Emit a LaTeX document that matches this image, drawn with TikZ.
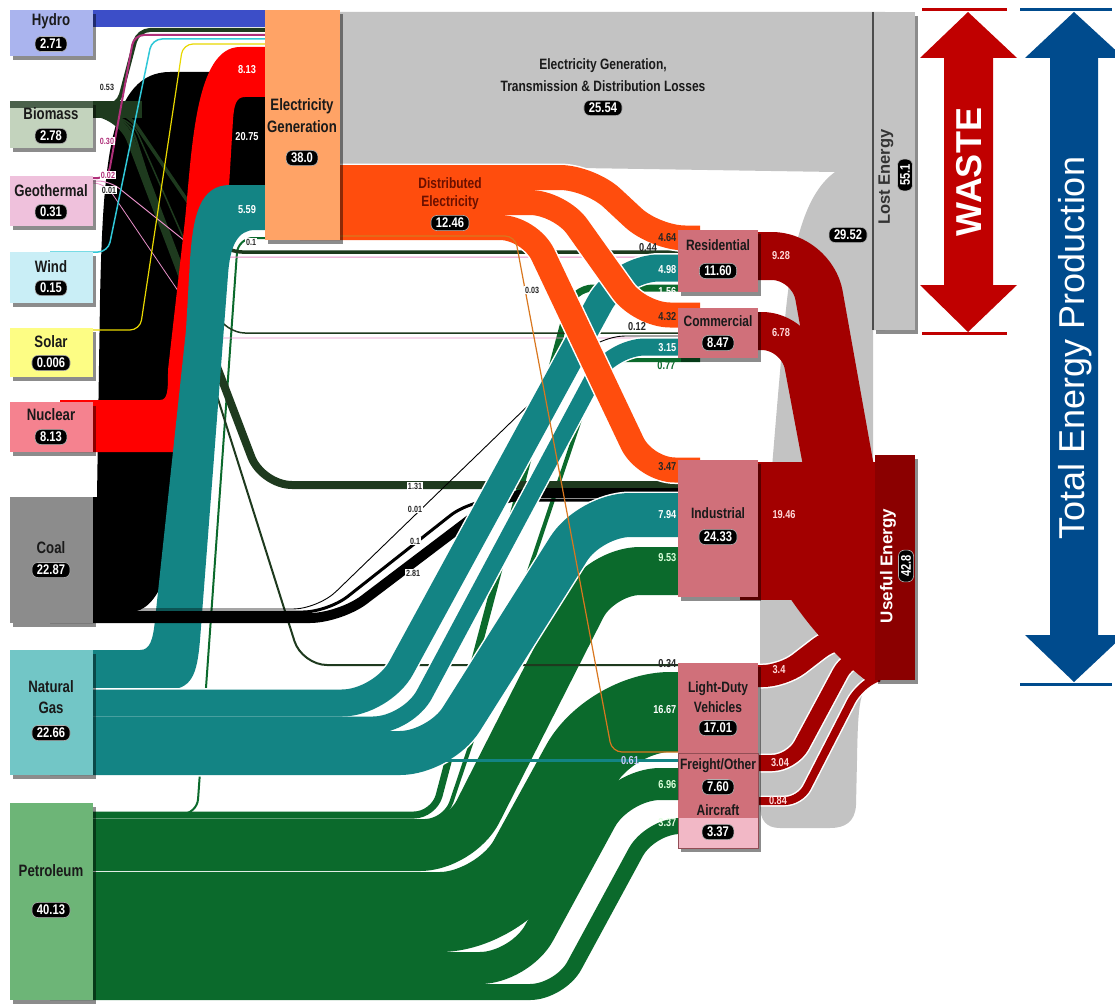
\documentclass[tikz,border=0pt]{standalone}
\usepackage{fontspec}
\setmainfont{Liberation Sans}
\newfontfamily\cnd[FakeStretch=0.8]{Liberation Sans}
\usetikzlibrary{shadows}
\definecolor{hydroC}{HTML}{3C4EC8}
\definecolor{bioC}{HTML}{1E3A1E}
\definecolor{geoC}{HTML}{B0307A}
\definecolor{geoL}{HTML}{E890C8}
\definecolor{windC}{HTML}{30C8D8}
\definecolor{solarC}{HTML}{E8D800}
\definecolor{nucC}{HTML}{FF0000}
\definecolor{gasC}{HTML}{138484}
\definecolor{petC}{HTML}{0B6A2C}
\definecolor{elecC}{HTML}{FF4D0D}
\definecolor{thinO}{HTML}{D9771F}
\definecolor{lossC}{HTML}{C3C3C3}
\definecolor{useC}{HTML}{A30000}
\definecolor{useBox}{HTML}{8B0000}
\definecolor{secC}{HTML}{D0707A}
\definecolor{secL}{HTML}{F2B8C6}
\definecolor{egC}{HTML}{FFA366}
\definecolor{wasteC}{HTML}{C00000}
\definecolor{totC}{HTML}{004B8D}
\definecolor{hydroF}{HTML}{AAB4EE}
\definecolor{bioF}{HTML}{C3D3BD}
\definecolor{geoF}{HTML}{EFC1DC}
\definecolor{windF}{HTML}{C9EEF6}
\definecolor{solarF}{HTML}{FDFD84}
\definecolor{nucF}{HTML}{F5828F}
\definecolor{coalF}{HTML}{8C8C8C}
\definecolor{gasF}{HTML}{72C6C6}
\definecolor{petF}{HTML}{6DB577}
\definecolor{labC}{HTML}{1A1A1A}
\definecolor{distT}{HTML}{6B1000}
\newcommand\bandw[3]{\draw[white,line cap=butt,line join=round,line width=#2pt+3pt,rounded corners=#1pt] #3;}
\newcommand\bandc[4]{\draw[#1,line cap=butt,line join=round,line width=#3pt,rounded corners=#2pt] #4;}
\tikzset{
 box/.style={anchor=north west, inner sep=0pt, outer sep=0pt,
   drop shadow={shadow xshift=3pt, shadow yshift=-4pt, opacity=0.45, fill=black}},
 lab/.style={font=\cnd\bfseries\fontsize{15}{16}\selectfont, text=labC, inner sep=0pt},
 srclab/.style={font=\cnd\bfseries\fontsize{16.5}{17}\selectfont, text=labC, inner sep=0pt},
 badge/.style={fill=black, text=white, rounded corners=6pt, inner xsep=5pt, inner ysep=2.6pt,
   draw=gray!60, line width=0.6pt, font=\cnd\bfseries\fontsize{14}{14}\selectfont},
 valW/.style={font=\cnd\bfseries\fontsize{11.5}{12}\selectfont, text=white, inner sep=0.5pt},
 valD/.style={font=\cnd\bfseries\fontsize{11.5}{12}\selectfont, text=black!85, inner sep=0.5pt},
 small/.style={font=\cnd\bfseries\fontsize{9}{9}\selectfont, text=black!85, fill=white, inner sep=0.6pt},
}
\begin{document}
\begin{tikzpicture}[x=1pt,y=-1pt]
\useasboundingbox (0,0) rectangle (1115,1006);
\clip (0,0) rectangle (1115,1006);
\fill[white] (0,0) rectangle (1115,1006);

% ---------- losses (gray) ----------
\fill[lossC] (320,165) -- (320,12) -- (885,12) -- (885,330) -- (873,330) -- (873,680)
  .. controls (860,690) and (858,700) .. (857,760) -- (856,805)
  .. controls (855,822) and (845,828) .. (830,828) -- (780,828)
  .. controls (766,828) and (760,820) .. (760,805) -- (760,600)
  .. controls (768,530) and (778,380) .. (787,300)
  .. controls (795,230) and (810,190) .. (835,172) -- (580,168) -- cycle;

% ---------- petroleum ----------
\bandw{20}{7}{(50,815) -- (434,815) -- (573,288) -- (700,288)}
\bandw{20}{4}{(50,821) -- (445,821) -- (600,360) -- (700,360)}
\bandw{40}{48}{(50,847) -- (460,847) -- (600,571) -- (700,571)}
\bandw{60}{80}{(50,912) -- (500,912) -- (610,712) -- (700,712)}
\bandw{40}{32}{(50,968) -- (520,968) -- (620,784) -- (700,784)}
\bandw{30}{16}{(50,992) -- (560,992) -- (650,826) -- (700,826)}
\bandc{petC}{20}{7}{(50,815) -- (434,815) -- (573,288) -- (700,288)}
\bandc{petC}{20}{4}{(50,821) -- (445,821) -- (600,360) -- (700,360)}
\bandc{petC}{40}{48}{(50,847) -- (460,847) -- (600,571) -- (700,571)}
\bandc{petC}{60}{80}{(50,912) -- (500,912) -- (610,712) -- (700,712)}
\bandc{petC}{40}{32}{(50,968) -- (520,968) -- (620,784) -- (700,784)}
\bandc{petC}{30}{16}{(50,992) -- (560,992) -- (650,826) -- (700,826)}
\bandc{petC}{15}{2}{(150,814) -- (197,814) -- (238,238) -- (290,238)}

% ---------- coal to electricity ----------
\fill[black] (60,612) -- (60,497) -- (97,497) -- (100,300)
  .. controls (103,160) and (110,72) .. (170,72) -- (300,72) -- (300,190) -- (245,190)
  .. controls (215,190) and (205,260) .. (195,360) -- (180,500)
  .. controls (175,560) and (160,612) .. (130,612) -- cycle;

% ---------- biomass and geothermal lines (under nuclear and gas) ----------
\fill[bioC] (93,101) rectangle (142,118);
\bandc{bioC}{20}{3.5}{(50,109) -- (125,109) -- (222,252) -- (700,252)}
\bandc{bioC}{20}{1.5}{(50,116) -- (130,116) -- (225,333) -- (700,333)}
\bandc{bioC}{30}{8}{(50,112) -- (120,112) -- (262,485) -- (700,485)}
\bandc{bioC}{25}{2}{(50,114) -- (128,114) -- (302,665) -- (700,665)}
\bandc{geoL}{12}{1}{(50,181) -- (110,181) -- (205,257) -- (700,257)}
\bandc{geoL}{12}{0.8}{(50,183) -- (105,183) -- (210,338) -- (700,338)}

% ---------- nuclear ----------
\fill[nucC] (60,400) -- (160,400) .. controls (168,400) and (168,390) .. (168,370)
  -- (185,220) .. controls (192,150) and (195,47) .. (240,47) -- (300,47) -- (300,97)
  -- (245,97) .. controls (236,97) and (234,105) .. (233,120) -- (215,420)
  .. controls (213,445) and (208,452) .. (195,452) -- (60,452) -- cycle;

% ---------- hydro and small renewables to electricity ----------
\fill[hydroC] (60,10) rectangle (300,27);
\bandc{bioC}{12}{4}{(50,106) -- (118,106) -- (138,30) -- (300,30)}
\bandc{geoC}{10}{2}{(50,178) -- (108,178) -- (134,35) -- (300,35)}
\bandc{windC}{10}{1.5}{(50,252) -- (108,252) -- (152,39) -- (300,39)}
\bandc{solarC}{10}{1.2}{(50,330) -- (140,330) -- (183,44) -- (300,44)}

% ---------- gas to electricity ----------
\fill[gasC] (60,650) -- (140,650) .. controls (150,650) and (153,640) .. (155,620)
  -- (186,330) -- (190,260) .. controls (193,215) and (200,185) .. (230,185) -- (300,185)
  -- (300,230) -- (255,230) .. controls (238,230) and (230,245) .. (228,275)
  -- (200,640) .. controls (197,675) and (192,690) .. (165,690) -- (60,690) -- cycle;

% coal to sectors
\bandc{black}{30}{10}{(50,618) -- (340,618) -- (505,493) -- (700,493)}
\bandc{black}{25}{3}{(50,612) -- (328,612) -- (470,500) -- (700,500)}
\bandc{black}{25}{0.9}{(50,609) -- (318,609) -- (600,336) -- (700,336)}

% ---------- natural gas to sectors ----------
\bandw{40}{27}{(50,703) -- (382,703) -- (619,268) -- (700,268)}
\bandw{35}{17}{(50,725) -- (408,725) -- (610,347) -- (700,347)}
\bandw{40}{44}{(50,753) -- (440,753) -- (590,515) -- (700,515)}
\bandc{gasC}{40}{27}{(50,703) -- (382,703) -- (619,268) -- (700,268)}
\bandc{gasC}{35}{17}{(50,725) -- (408,725) -- (610,347) -- (700,347)}
\bandc{gasC}{40}{44}{(50,753) -- (440,753) -- (590,515) -- (700,515)}
\bandc{gasC}{5}{3}{(50,760) -- (700,760)}

% ---------- distributed electricity ----------
\bandw{30}{25}{(300,177.5) -- (590,177.5) -- (655,238) -- (700,238)}
\bandw{30}{25}{(300,202.5) -- (560,202.5) -- (640,315) -- (700,315)}
\bandw{30}{25}{(300,227.5) -- (530,227.5) -- (645,470) -- (700,470)}
\bandc{elecC}{30}{25}{(300,177.5) -- (590,177.5) -- (655,238) -- (700,238)}
\bandc{elecC}{30}{25}{(300,202.5) -- (560,202.5) -- (640,315) -- (700,315)}
\bandc{elecC}{30}{25}{(300,227.5) -- (530,227.5) -- (645,470) -- (700,470)}
\bandc{thinO}{10}{1.2}{(340,236) -- (515,236) -- (612,752) -- (700,752)}

% ---------- useful energy flows ----------
\bandw{20}{22}{(740,676) -- (783,676) -- (835,636) -- (880,636)}
\bandw{20}{16}{(740,763) -- (792,763) -- (850,655) -- (880,655)}
\bandw{15}{8}{(740,801) -- (800,801) -- (858,688) -- (880,676)}
\fill[useC] (740,462) rectangle (880,600);
\fill[useC] (790,598) -- (880,598) -- (880,682) -- (868,682) .. controls (845,665) and (815,635) .. (790,598) -- cycle;
\bandc{useC}{40}{48}{(740,256) -- (812,256) -- (852,480)}
\bandc{useC}{35}{38}{(740,331) -- (797,331) -- (825,480)}
\bandc{useC}{20}{22}{(740,676) -- (783,676) -- (835,636) -- (880,636)}
\bandc{useC}{20}{16}{(740,763) -- (792,763) -- (850,655) -- (880,655)}
\bandc{useC}{15}{8}{(740,801) -- (800,801) -- (858,688) -- (880,676)}

% ---------- source boxes ----------
\node[box, fill=hydroF, minimum width=83pt, minimum height=46pt] (hydro) at (10,10) {};
\node[box, fill=bioF, minimum width=83pt, minimum height=47pt] (biomass) at (10,101) {};
\fill[bioC!80] (10,101) rectangle (93,108);
\node[box, fill=geoF, minimum width=83pt, minimum height=50pt] (geo) at (10,176) {};
\node[box, fill=windF, minimum width=83pt, minimum height=51pt] (wind) at (10,252) {};
\node[box, fill=solarF, minimum width=83pt, minimum height=49pt] (solar) at (10,328) {};
\node[box, fill=nucF, minimum width=83pt, minimum height=50pt] (nuclear) at (10,402) {};
\node[box, fill=coalF, minimum width=83pt, minimum height=126pt] (coal) at (10,497) {};
\node[box, fill=gasF, minimum width=83pt, minimum height=125pt] (gas) at (10,650) {};
\node[box, fill=petF, minimum width=83pt, minimum height=197pt] (petro) at (10,803) {};

% ---------- electricity generation, sectors, totals ----------
\node[box, fill=egC, minimum width=75pt, minimum height=230pt] (eg) at (265,10) {};
\node[box, fill=secC, minimum width=80pt, minimum height=62pt] (res) at (678,230) {};
\node[box, fill=secC, minimum width=80pt, minimum height=50pt] (com) at (678,308) {};
\node[box, fill=secC, minimum width=80pt, minimum height=137pt] (ind) at (678,460) {};
\node[box, fill=secC, minimum width=80pt, minimum height=90pt] (ldv) at (678,663) {};
\node[box, fill=secC, minimum width=80pt, minimum height=47pt, draw=secC!70!black, line width=0.5pt] (frt) at (678,753) {};
\node[box, fill=secL, minimum width=80pt, minimum height=48pt, draw=secC!70!black, line width=0.5pt] (air) at (678,800) {};
\fill[secC] (678.3,800.3) rectangle (757.7,818);
\node[box, fill=lossC, minimum width=42pt, minimum height=318pt] (lost) at (873,12) {};
\draw[black!70, line width=2pt] (lost.north west) -- (lost.south west);
\node[box, fill=useBox, minimum width=40pt, minimum height=225pt] (useful) at (875,455) {};

% ---------- texts ----------
\node[srclab] at (51,21) {Hydro};        \node[badge] at (51,44) {2.71};
\node[srclab] at (51,114) {Biomass};     \node[badge] at (51,136) {2.78};
\node[srclab] at (51,191) {Geothermal};  \node[badge] at (51,212) {0.31};
\node[srclab] at (51,267) {Wind};        \node[badge] at (51,288) {0.15};
\node[srclab] at (51,342) {Solar};       \node[badge] at (51,363) {0.006};
\node[srclab] at (51,415) {Nuclear};     \node[badge] at (51,437) {8.13};
\node[srclab] at (51,548) {Coal};        \node[badge] at (51,570) {22.87};
\node[srclab] at (51,687) {Natural};     \node[srclab] at (51,708) {Gas};
\node[badge] at (51,733) {22.66};
\node[srclab] at (51,871) {Petroleum};   \node[badge] at (51,910) {40.13};

\node[srclab] at (302,106) {Electricity};
\node[srclab] at (302,127) {Generation};
\node[badge] at (302,158) {38.0};
\node[lab] at (603,66) {Electricity Generation,};
\node[lab] at (603,86) {Transmission \& Distribution Losses};
\node[badge] at (603,108) {25.54};
\node[lab, text=distT] at (450,183) {Distributed};
\node[lab, text=distT] at (450,203) {Electricity};
\node[badge] at (450,223) {12.46};

\node[lab] at (718,245) {Residential};   \node[badge] at (718,271) {11.60};
\node[lab] at (718,321) {Commercial};    \node[badge] at (718,343) {8.47};
\node[lab] at (718,513) {Industrial};    \node[badge] at (718,537) {24.33};
\node[lab] at (718,689) {Light-Duty};    \node[lab] at (718,707) {Vehicles};
\node[badge] at (718,728) {17.01};
\node[lab] at (718,766) {Freight/Other}; \node[badge] at (718,787) {7.60};
\node[lab] at (718,810) {Aircraft};      \node[badge] at (718,832) {3.37};

\node[rotate=90, font=\bfseries\fontsize{16.5}{16.5}\selectfont, text=black!80, inner sep=0pt] at (886,177) {Lost Energy};
\node[badge, rotate=90] at (905,175) {55.1};
\node[rotate=90, font=\bfseries\fontsize{17}{17}\selectfont, text=white, inner sep=0pt] at (888,566) {Useful Energy};
\node[badge, rotate=90] at (906,566) {42.8};
\node[badge] at (848,235) {29.52};

% values on flows
\node[valW] at (247,70) {8.13};
\node[valW] at (247,137) {20.75};
\node[valW] at (247,210) {5.59};
\node[small] at (251,242) {0.1};
\node[small] at (107,87) {0.53};
\node[small, text=geoC] at (107,141) {0.30};
\node[small, text=geoC] at (108,175) {0.02};
\node[small] at (109,190) {0.01};
\node[small] at (415,486) {1.31};
\node[small] at (415,509) {0.01};
\node[small] at (415,541) {0.1};
\node[small] at (413,573) {2.81};
\node[small] at (532,290) {0.03};

\node[valD, anchor=east] at (677,238) {4.64};
\node[valD] at (648,248) {0.44};
\node[valW, anchor=east] at (677,270) {4.98};
\node[valW, anchor=east] at (677,292) {1.56};
\node[valD, anchor=east] at (677,317) {4.32};
\node[valD] at (637,327) {0.12};
\node[valW, anchor=east] at (677,348) {3.15};
\node[valD, text=petC, anchor=east] at (676,366) {0.77};
\node[valD, anchor=east] at (677,467) {3.47};
\node[valW, anchor=east] at (677,515) {7.94};
\node[valW, text=green!15, anchor=east] at (677,558) {9.53};
\node[valD, anchor=east] at (677,664) {0.34};
\node[valW, anchor=east] at (677,710) {16.67};
\node[valW, text=blue!20] at (630,761) {0.61};
\node[valW, text=green!15, anchor=east] at (677,785) {6.96};
\node[valW, text=green!10, anchor=east] at (677,823) {3.37};

\node[valW, text=red!15] at (781,256) {9.28};
\node[valW, text=red!15] at (781,333) {6.78};
\node[valW, text=red!15] at (784,515) {19.46};
\node[valW, text=red!15] at (779,670) {3.4};
\node[valW, text=red!15] at (780,763) {3.04};
\node[valW, text=red!15] at (778,801) {0.84};

% ---------- WASTE arrow ----------
\draw[wasteC, line width=3pt] (922,10) -- (1007,10);
\draw[wasteC, line width=3pt] (922,333) -- (1007,333);
\fill[wasteC] (968,12) -- (1017,58) -- (993,58) -- (993,285) -- (1017,285) -- (968,332)
  -- (920,285) -- (944,285) -- (944,58) -- (920,58) -- cycle;
\node[rotate=90, text=white, font=\bfseries\fontsize{36}{36}\selectfont, inner sep=0pt] (waste) at (969,172) {WASTE};

% ---------- Total Energy Production arrow ----------
\draw[totC, line width=3pt] (1020,10) -- (1112,10);
\draw[totC, line width=3pt] (1020,684) -- (1112,684);
\fill[totC] (1074,12) -- (1124,58) -- (1098,58) -- (1098,635) -- (1124,635) -- (1074,682)
  -- (1025,635) -- (1050,635) -- (1050,58) -- (1025,58) -- cycle;
\node[rotate=90, text=white, font=\fontsize{36}{36}\selectfont, inner sep=0pt] (total) at (1075,348) {Total Energy Production};
\end{tikzpicture}
\end{document}
